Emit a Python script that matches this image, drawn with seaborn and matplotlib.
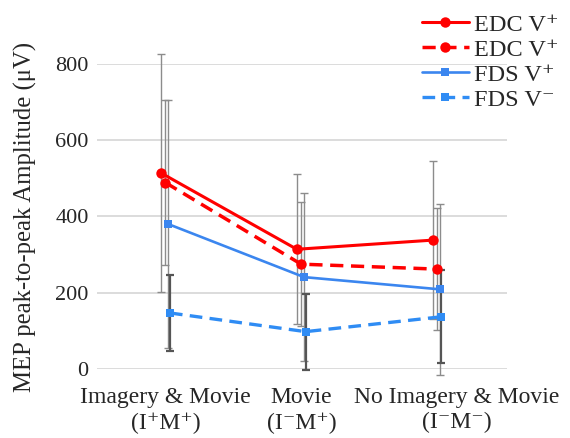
#!/usr/bin/env python3
"""MEP peak-to-peak amplitude by condition (EDC / FDS)."""
import numpy as np
import pandas as pd
import matplotlib
matplotlib.use("Agg")
import matplotlib.pyplot as plt
import matplotlib.transforms as mtrans
import seaborn as sns

# -------------------------------
# Data
# -------------------------------
conditions = ["Imagery & Movie\n(I\u207aM\u207a)", "Movie\n(I\u207bM\u207a)",
              "No Imagery & Movie\n(I\u207bM\u207b)"]
series_names = ["EDC V\u207a", "EDC V\u207a ", "FDS V\u207a", "FDS V\u207b"]
edc_pos = [514, 314, 338]
edc_pos_sd = [312, 197, 208]
edc_neg = [489, 275, 262]
edc_neg_sd = [217, 163, 159]
fds_pos = [380, 241, 209]
fds_pos_sd = [325, 221, 225]
fds_neg = [147, 98, 137]
fds_neg_sd = [100, 100, 122]
y_ticks = [0, 200, 400, 600, 800]

sns.set_theme(style="whitegrid")
plt.rcParams["font.family"] = ["Liberation Serif", "DejaVu Serif"]

# per-series style: colour, dashes, marker, size, slight x shift, error bar look
styles = [
    dict(color="#ff0000", ls="-", marker="o", ms=7.5, lw=2.2, dx=-0.035, ecol="#8c8c8c", elw=1.0),
    dict(color="#ff0000", ls=(0, (3.8, 2.2)), marker="o", ms=7.5, lw=2.5, dx=-0.004, ecol="#8c8c8c", elw=1.0),
    dict(color="#3b86ef", ls="-", marker="s", ms=5.5, lw=1.9, dx=0.018, ecol="#8c8c8c", elw=1.0),
    dict(color="#2f8cf4", ls=(0, (3.8, 2.2)), marker="s", ms=5.5, lw=2.4, dx=0.03, ecol="#555555", elw=1.6),
]
values = [edc_pos, edc_neg, fds_pos, fds_neg]
sds = [edc_pos_sd, edc_neg_sd, fds_pos_sd, fds_neg_sd]

fig = plt.figure(figsize=(5.7, 4.38), dpi=100)
ax = fig.add_axes([0.170, 0.1575, 0.719, 0.6965])

x = np.arange(len(conditions))
for name, vals, sd, st in zip(series_names, values, sds, styles):
    xs = x + st["dx"]
    df = pd.DataFrame({"x": xs, "y": vals})
    ax.errorbar(xs, vals, yerr=sd, fmt="none", ecolor=st["ecol"], elinewidth=st["elw"],
                capsize=2.8, capthick=st["elw"], zorder=2, clip_on=False)
    sns.lineplot(data=df, x="x", y="y", ax=ax, color=st["color"], linewidth=st["lw"],
                 linestyle=st["ls"], marker=st["marker"], markersize=st["ms"],
                 markeredgewidth=0, label=name, zorder=3, clip_on=False)

ax.set_xlim(-0.508, 2.511)
ax.set_ylim(0, 800)
ax.set_yticks(y_ticks)
ax.set_xticks(x)
ax.set_xticklabels(conditions, fontsize=17, linespacing=1.25)
ax.tick_params(axis="x", pad=13, length=0)
ax.tick_params(axis="y", labelsize=16, pad=6, length=0)
ax.set_xlabel("")
ax.set_ylabel("MEP peak-to-peak Amplitude (\u03bcV)", fontsize=17.8, labelpad=13)
ax.grid(axis="x", visible=False)
ax.grid(axis="y", color="#d9d9d9", linewidth=1.3)
for s in ax.spines.values():
    s.set_visible(False)

# third category label sits a little right of its points in the original
lab = ax.get_xticklabels()[2]
lab.set_transform(lab.get_transform() + mtrans.ScaledTranslation(19 / 100, 0, fig.dpi_scale_trans))

ax.get_legend().remove()
h, l = ax.get_legend_handles_labels()
fig.legend(h, [t.strip() for t in l], loc="upper left", bbox_to_anchor=(412 / 570, 1 - 4 / 438),
           frameon=False, fontsize=17.5, handlelength=1.95, handletextpad=0.2,
           labelspacing=0.12, borderaxespad=0)

fig.savefig("out.png", dpi=100)
plt.close(fig)
